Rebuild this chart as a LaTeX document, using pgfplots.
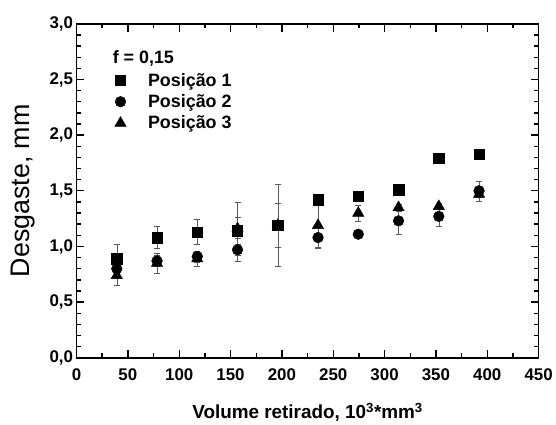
\documentclass[border=0pt]{standalone}
\usepackage{fontspec}
\setmainfont{Liberation Sans}
\usepackage{pgfplots}
\usepackage{pgfplotstable}
\pgfplotsset{compat=1.18}
\pgfplotstableread{
x y e
39.2 0.89 0.13
78.4 1.08 0.10
117.6 1.13 0.11
156.8 1.14 0.12
196 1.19 0.20
235.2 1.42 0.02
274.4 1.45 0.02
313.6 1.51 0.02
352.8 1.79 0.02
392 1.83 0.02
}\posA
\pgfplotstableread{
x y e
39.2 0.80 0.08
78.4 0.87 0.05
117.6 0.91 0.05
156.8 0.97 0.10
196 1.19 0.03
235.2 1.08 0.10
274.4 1.11 0.02
313.6 1.23 0.12
352.8 1.27 0.09
392 1.50 0.09
}\posB
\pgfplotstableread{
x y e
39.2 0.74 0.09
78.4 0.85 0.09
117.6 0.89 0.07
156.8 1.16 0.24
196 1.19 0.37
235.2 1.19 0.20
274.4 1.30 0.07
313.6 1.35 0.03
352.8 1.36 0.03
392 1.47 0.03
}\posC
\begin{document}
\begin{tikzpicture}
\begin{axis}[
  scale only axis, width=465pt, height=336pt,
  xmin=0, xmax=450, ymin=0, ymax=3,
  xtick={0,50,...,450}, ytick={0,0.5,...,3},
  minor x tick num=1, minor y tick num=4,
  tick align=inside,
  major tick length=8pt, minor tick length=4.5pt,
  every tick/.style={black, line width=1.4pt},
  axis line style={line width=1.6pt},
  tick label style={font=\bfseries\fontsize{17}{19}\selectfont},
  /pgf/number format/assume math mode=true,
  yticklabel style={/pgf/number format/.cd, use comma, fixed, fixed zerofill, precision=1},
  xticklabel style={yshift=-8pt},
  xlabel={\bfseries Volume retirado, 10\textsuperscript{3}*mm\textsuperscript{3}},
  ylabel={Desgaste, mm},
  xlabel style={font=\fontsize{19}{21}\selectfont, yshift=-15pt},
  ylabel style={font=\fontsize{27}{29}\selectfont, yshift=8pt},
  legend style={draw=none, fill=none, at={(rel axis cs:0.076,0.865)}, anchor=north west,
    font=\bfseries\fontsize{18}{20}\selectfont, row sep=3pt},
  legend cell align=left,
  clip=false,
]
\addplot[only marks, mark=square*, mark size=5.2pt, black,
  error bars/.cd, y dir=both, y explicit,
  error bar style={line width=0.5pt, black!65},
  error mark options={rotate=90, mark size=3pt, line width=0.5pt, black!65}]
  table[x=x, y=y, y error=e] {\posA};
\addlegendentry{\hspace{20pt}Posição 1}
\addplot[only marks, mark=*, mark size=5.4pt, black,
  error bars/.cd, y dir=both, y explicit,
  error bar style={line width=0.5pt, black!65},
  error mark options={rotate=90, mark size=3pt, line width=0.5pt, black!65}]
  table[x=x, y=y, y error=e] {\posB};
\addlegendentry{\hspace{20pt}Posição 2}
\addplot[only marks, mark=triangle*, mark size=6.6pt, black,
  error bars/.cd, y dir=both, y explicit,
  error bar style={line width=0.5pt, black!65},
  error mark options={rotate=90, mark size=3pt, line width=0.5pt, black!65}]
  table[x=x, y=y, y error=e] {\posC};
\addlegendentry{\hspace{20pt}Posição 3}
\node[anchor=west, font=\bfseries\fontsize{18}{20}\selectfont, inner sep=0pt] at (rel axis cs:0.078,0.895) {f = 0,15};
\end{axis}
\path (current axis.south west) ++(-77pt,-61pt) coordinate (bbA);
\path (current axis.north east) ++(14pt,24pt) coordinate (bbB);
\useasboundingbox (bbA) rectangle (bbB);
\end{tikzpicture}
\end{document}
